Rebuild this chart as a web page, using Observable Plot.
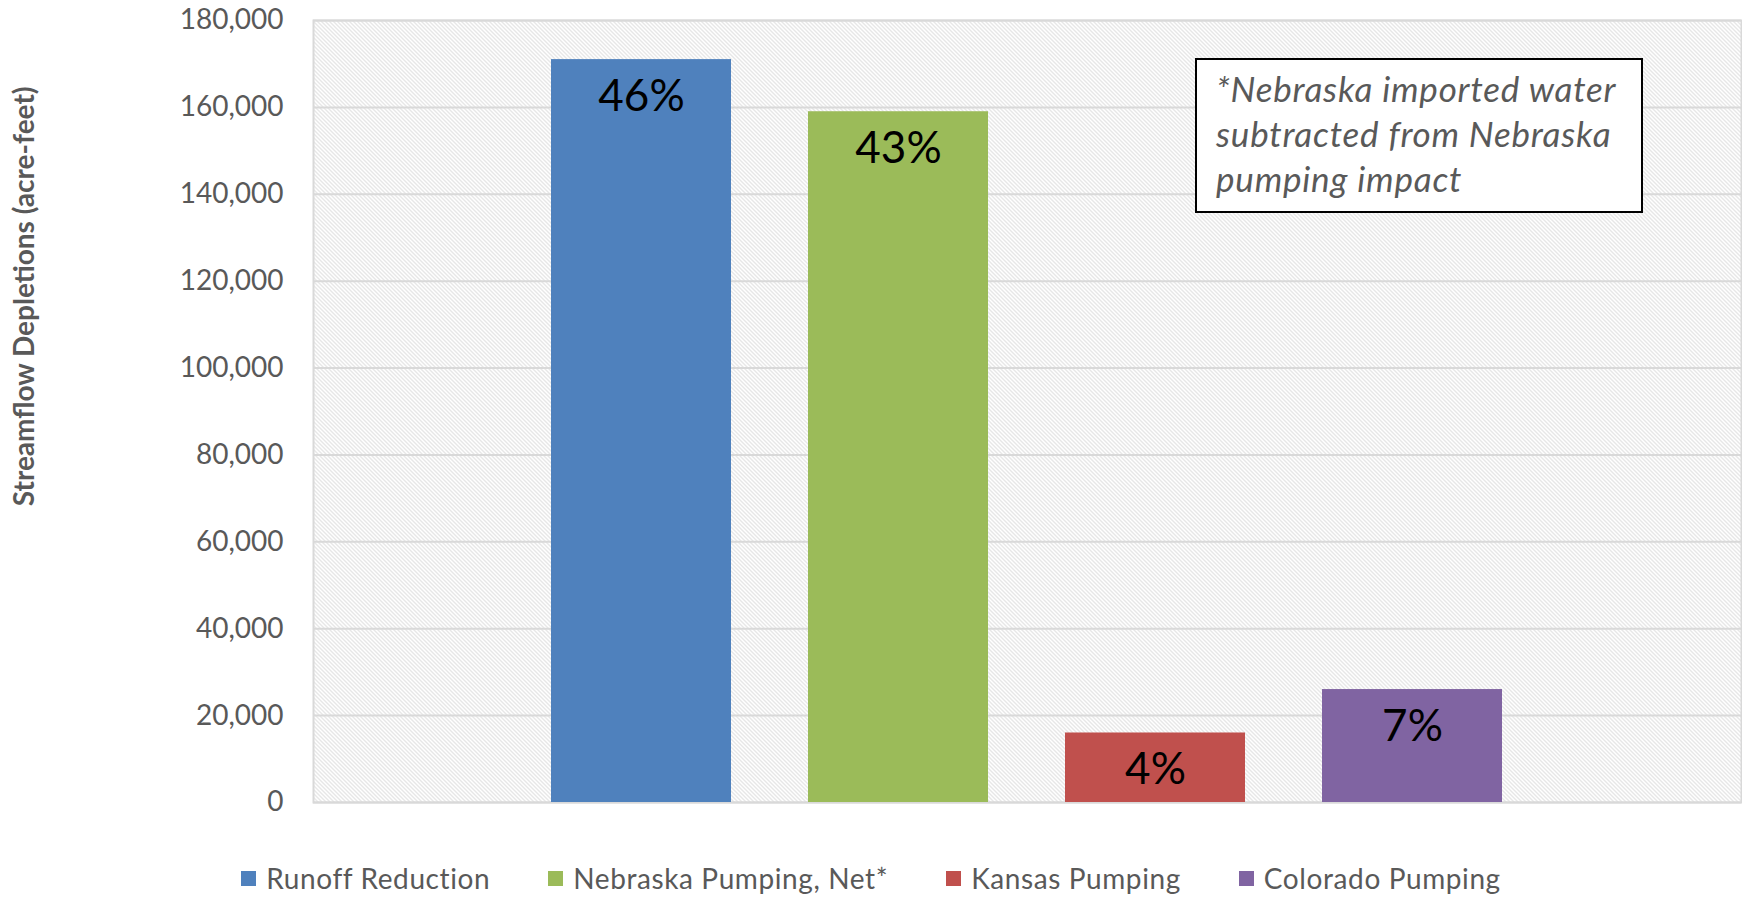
<!DOCTYPE html>
<html>
<head>
<meta charset="utf-8">
<script src="https://cdn.jsdelivr.net/npm/d3@7"></script>
<script src="https://cdn.jsdelivr.net/npm/@observablehq/plot@0.6"></script>
<style>
  html, body { margin: 0; padding: 0; background: #fff; }
  #wrap { position: relative; width: 1742px; height: 898px; font-family: Lato, "Open Sans", sans-serif; }
  #note {
    position: absolute; left: 1195px; top: 58px; width: 448px; height: 155px; box-sizing: border-box;
    border: 2px solid #000; background: #fff; padding: 6px 0 0 19px;
    font-style: italic; font-size: 35px; letter-spacing: 0.8px; line-height: 45px; color: #595959; white-space: nowrap;
  }
  #legend {
    height: 48px; display: flex; justify-content: center; align-items: center; padding-top: 8px; box-sizing: border-box;
    font-size: 28px; letter-spacing: 0.6px; color: #595959; gap: 58px;
  }
  #legend .item { display: flex; align-items: center; }
  #legend .sw { width: 15px; height: 15px; margin-right: 10px; }
</style>
</head>
<body>
<div id="wrap">
  <div id="chart"></div>
  <div id="legend"></div>
  <div id="note">*Nebraska imported water<br>subtracted from Nebraska<br>pumping impact</div>
</div>
<script>
const series = ["Runoff Reduction", "Nebraska Pumping, Net*", "Kansas Pumping", "Colorado Pumping"];
const values = [171000, 159000, 16000, 26000];
const shares = ["46%", "43%", "4%", "7%"];
const colors = ["#4f81bd", "#9bbb59", "#c0504d", "#8064a2"];
const yTicks = [0, 20000, 40000, 60000, 80000, 100000, 120000, 140000, 160000, 180000];
const yTitle = "Streamflow Depletions (acre-feet)";

const data = series.map((s, i) => ({name: s, value: values[i], pct: shares[i]}));

const chart = Plot.plot({
  width: 1742,
  height: 850,
  marginTop: 20,
  marginBottom: 48,
  marginLeft: 313,
  marginRight: 1,
  style: {fontFamily: "Lato, 'Open Sans', sans-serif", fontSize: "28px", color: "#595959", background: "#fff"},
  x: {type: "band", domain: series, range: [512.5, 1540.5], paddingInner: 0.3, paddingOuter: 0.15, axis: null},
  y: {domain: [0, 180000], ticks: yTicks, tickFormat: d3.format(","), tickSize: 0, tickPadding: 30, label: null},
  color: {domain: series, range: colors},
  marks: [
    Plot.frame({fill: "url(#hatch)", stroke: "none"}),
    Plot.ruleY(yTicks, {stroke: "#d9d9d9", strokeWidth: 2}),
    Plot.frame({stroke: "#d9d9d9", strokeWidth: 2}),
    Plot.barY(data, {x: "name", y: "value", fill: "name"}),
    Plot.text(data, {x: "name", y: "value", text: "pct", dy: 37, fontSize: 44, fill: "#000", textAnchor: "middle", lineAnchor: "middle"}),
    Plot.text([yTitle], {frameAnchor: "left", y: () => 116500, dx: -288, rotate: -90, text: d => d, textAnchor: "middle", lineAnchor: "middle", fontSize: 28, letterSpacing: 1, fontWeight: "bold", fill: "#595959"})
  ]
});

// hatch pattern definition
const svg = d3.select(chart.tagName.toLowerCase() === "svg" ? chart : chart.querySelector("svg"));
const defs = svg.insert("defs", ":first-child");
const pat = defs.append("pattern").attr("id", "hatch").attr("patternUnits", "userSpaceOnUse")
  .attr("width", 4).attr("height", 4);
pat.append("rect").attr("width", 4).attr("height", 4).attr("fill", "#fff");
for (let i = 0; i < 4; i++) {
  pat.append("rect").attr("x", i).attr("y", i).attr("width", 1).attr("height", 1).attr("fill", "#cfcfcf");
}

document.getElementById("chart").appendChild(chart);

const legend = d3.select("#legend");
series.forEach((s, i) => {
  const it = legend.append("div").attr("class", "item");
  it.append("div").attr("class", "sw").style("background", colors[i]);
  it.append("span").text(s);
});
</script>
</body>
</html>
